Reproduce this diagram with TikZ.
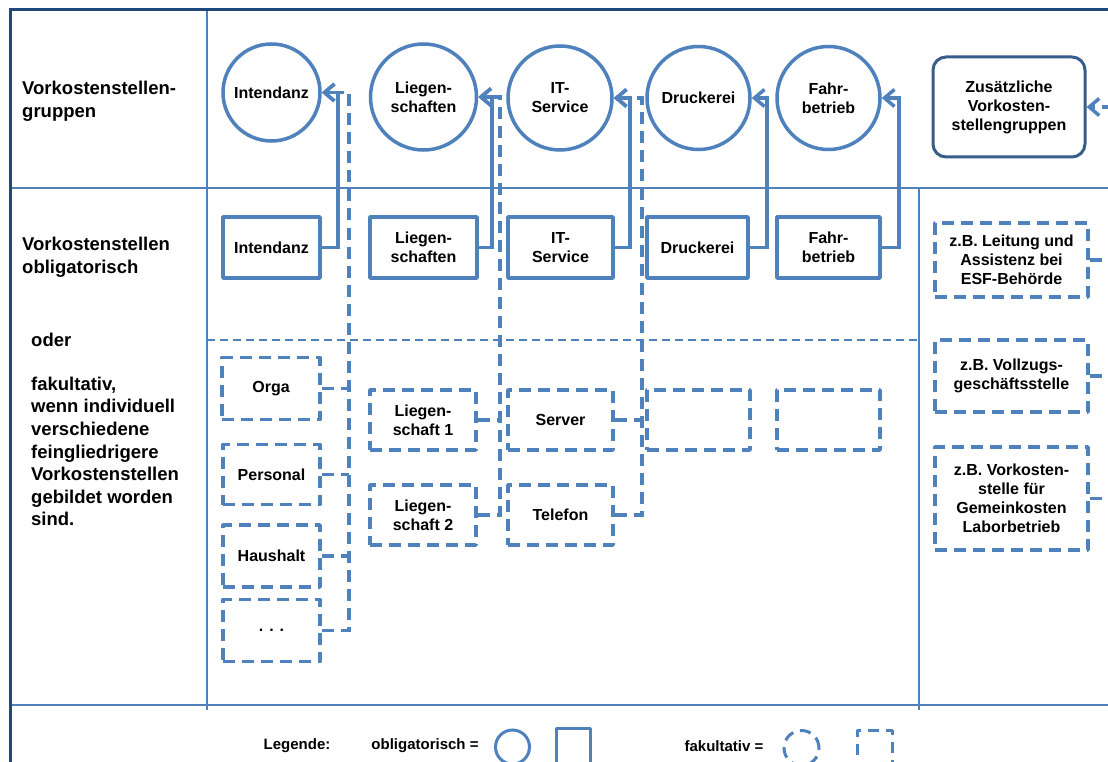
\documentclass[tikz,border=0pt]{standalone}
\usepackage{fontspec}
\setmainfont{Liberation Sans}
\usetikzlibrary{arrows.meta}
\definecolor{mblue}{HTML}{4F81BD}
\definecolor{dblue}{HTML}{1F497D}
\definecolor{zblue}{HTML}{385D8A}
\tikzset{
 boxtxt/.style={font=\bfseries\fontsize{16}{19}\selectfont, align=center, text=black},
 ocirc/.style={boxtxt, circle, draw=mblue, line width=3.5pt, inner sep=0pt},
 obox/.style={boxtxt, rectangle, draw=mblue, line width=3.5pt, inner sep=0pt, line join=round},
 fbox/.style={obox, dash pattern=on 12pt off 7pt},
 zbox/.style={boxtxt, rectangle, rounded corners=13pt, draw=zblue, line width=3pt, inner sep=0pt},
 conn/.style={draw=mblue, line width=3.5pt, -{Straight Barb[length=10pt,width=17pt]}},
 fconn/.style={conn, dash pattern=on 12pt off 7pt},
 stub/.style={draw=mblue, line width=3.5pt, dash pattern=on 12pt off 7pt},
 lefttxt/.style={font=\bfseries\fontsize{18.5}{22.6}\selectfont, align=left, anchor=west, inner sep=0pt},
 legtxt/.style={font=\bfseries\fontsize{15}{18}\selectfont, inner sep=0pt},
}
\begin{document}
\begin{tikzpicture}[x=1pt,y=-1pt]
\useasboundingbox (0,0) rectangle (1108,762);
\clip (0,0) rectangle (1108,762);
\fill[white] (0,0) rectangle (1108,762);

% table grid
\draw[mblue, line width=2pt] (10,188) -- (1108,188);
\draw[mblue, line width=2pt] (207,10) -- (207,710);
\draw[mblue, line width=2pt] (919,188) -- (919,710);
\draw[mblue, line width=2.5pt] (10,705) -- (1108,705);
\draw[mblue, line width=1.8pt, dash pattern=on 8pt off 5pt] (207,340) -- (919,340);
\draw[dblue, line width=3pt] (10,762) -- (10,10) -- (1108,10);

% left column texts
\node[lefttxt] (tGrp) at (22,101) {Vorkostenstellen-\\gruppen};
\node[lefttxt] (tObl) at (22,257.5) {Vorkostenstellen\\obligatorisch};
\node[lefttxt] (tOder) at (31,340) {oder};
\node[lefttxt] (tFak) at (31,451.5) {fakultativ,\\wenn individuell\\verschiedene\\feingliedrigere\\Vorkostenstellen\\gebildet worden\\sind.};

% groups (circles)
\node[ocirc, minimum size=97pt] (cInt) at (271.5,92.5) {Intendanz};
\node[ocirc, minimum size=106pt] (cLieg) at (423.5,97) {Liegen-\\schaften};
\node[ocirc, minimum size=104pt] (cIT) at (560,98) {IT-\\Service};
\node[ocirc, minimum size=103pt] (cDru) at (698.5,98) {Druckerei};
\node[ocirc, minimum size=103pt] (cFahr) at (828.5,98) {Fahr-\\betrieb};
\node[zbox, minimum width=152pt, minimum height=100pt] (zus) at (1009,107) {Zus\"atzliche\\Vorkosten-\\stellengruppen};

% obligatory cost centres
\node[obox, minimum width=97pt, minimum height=61pt] (rInt) at (271.5,247.5) {Intendanz};
\node[obox, minimum width=107pt, minimum height=61pt] (rLieg) at (423.5,247.5) {Liegen-\\schaften};
\node[obox, minimum width=105pt, minimum height=61pt] (rIT) at (560.5,247.5) {IT-\\Service};
\node[obox, minimum width=101pt, minimum height=61pt] (rDru) at (697.5,247.5) {Druckerei};
\node[obox, minimum width=103pt, minimum height=61pt] (rFahr) at (828.5,247.5) {Fahr-\\betrieb};

% optional cost centres
\node[fbox, minimum width=98pt, minimum height=62pt] (dOrga) at (271,388.5) {Orga};
\node[fbox, minimum width=97pt, minimum height=60pt] (dPers) at (271.5,474.5) {Personal};
\node[fbox, minimum width=97pt, minimum height=62pt] (dHaus) at (271.5,556) {Haushalt};
\node[fbox, minimum width=97pt, minimum height=62pt] (dDots) at (271.5,630.5) {. . .};
\node[fbox, minimum width=106pt, minimum height=60pt] (dL1) at (423,420) {Liegen-\\schaft 1};
\node[fbox, minimum width=106pt, minimum height=60pt] (dL2) at (423,515) {Liegen-\\schaft 2};
\node[fbox, minimum width=105pt, minimum height=60pt] (dServ) at (560.5,420) {Server};
\node[fbox, minimum width=105pt, minimum height=60pt] (dTel) at (560.5,515) {Telefon};
\node[fbox, minimum width=103pt, minimum height=60pt] (dDru) at (698.5,420) {};
\node[fbox, minimum width=103pt, minimum height=60pt] (dFahr) at (828.5,420) {};
\node[fbox, minimum width=153pt, minimum height=74pt] (dLeit) at (1011.5,260) {z.B. Leitung und\\Assistenz bei\\ESF-Beh\"orde};
\node[fbox, minimum width=153pt, minimum height=72pt] (dVoll) at (1011.5,376) {z.B. Vollzugs-\\gesch\"aftsstelle};
\node[fbox, minimum width=153pt, minimum height=103pt] (dLab) at (1011.5,498.5) {z.B. Vorkosten-\\stelle f\"ur\\Gemeinkosten\\Laborbetrieb};

% optional connectors (dashed)
\draw[fconn] (dDots.east) -- ++(27,0) |- (cInt.east);
\draw[stub] (dOrga.east) -- ++(27,0);
\draw[stub] (dPers.east) -- ++(27,0);
\draw[stub] (dHaus.east) -- ++(27,0);
\draw[fconn] (dL2.east) -- ++(22,0) |- (cLieg.east);
\draw[stub] (dL1.east) -- ++(22,0);
\draw[fconn] (dTel.east) -- ++(27,0) |- (cIT.east);
\draw[stub] (dServ.east) -- ++(27,0);
\draw[fconn] (dLab.east) -- ++(35,0) |- (zus.east);
\draw[stub] (dLeit.east) -- ++(35,0);
\draw[stub] (dVoll.east) -- ++(35,0);

% obligatory connectors (solid)
\draw[conn] (rInt.east) -- ++(16,0) |- (cInt.east);
\draw[conn] (rLieg.east) -- ++(13,0) |- (cLieg.east);
\draw[conn] (rIT.east) -- ++(15,0) |- (cIT.east);
\draw[conn] (rDru.east) -- ++(17,0) |- (cDru.east);
\draw[conn] (rFahr.east) -- ++(17,0) |- (cFahr.east);

% legend
\node[legtxt] (lgT) at (297,746) {Legende:};
\node[legtxt] (lgO) at (425,746) {obligatorisch =};
\node[ocirc, line width=3pt, minimum size=34pt] (lgC) at (512.5,747) {};
\node[obox, line width=3pt, minimum width=34pt, minimum height=60pt] (lgR) at (573,758) {};
\node[legtxt] (lgF) at (724,746) {fakultativ =};
\node[ocirc, line width=3pt, minimum size=35pt, dash pattern=on 11pt off 7pt] (lgDC) at (801.5,748) {};
\node[obox, line width=3pt, minimum width=35pt, minimum height=60pt, dash pattern=on 11pt off 7pt] (lgDR) at (874.5,760) {};
\end{tikzpicture}
\end{document}
